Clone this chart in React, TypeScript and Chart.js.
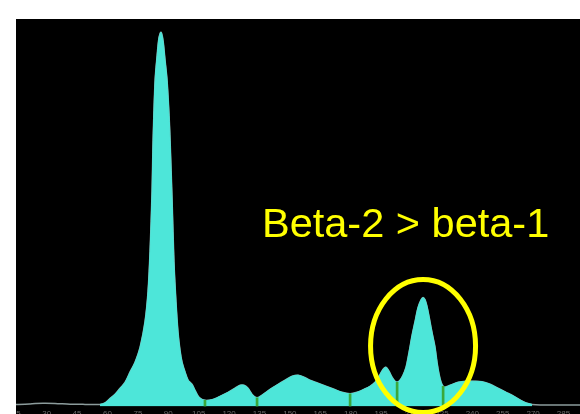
import React, { useEffect, useRef } from "react";
import { Chart, registerables } from "chart.js";

Chart.register(...registerables);

// Densitometer scan: mobility (x) and relative absorbance (% of full scale)
const mobility = [
  5, 14.9, 21.8, 28.2, 34.1, 41.5, 48.9, 56.3, 58.8, 61.3, 63.7, 66.2, 68.7, 71.1,
  73.6, 76.1, 78.5, 80.0, 81.0, 82.0, 82.5, 83.5, 84.5, 85.4, 86.4, 87.4, 88.4,
  89.4, 90.4, 90.9, 91.9, 92.8, 93.8, 94.8, 95.8, 96.8, 98.3, 99.8, 101.7, 103.2,
  105.2, 108.1, 112.1, 115.5, 119.5, 122.9, 125.4, 127.4, 129.4, 131.3, 133.8,
  136.8, 140.2, 144.2, 147.6, 151.1, 154.0, 157.0, 159.9, 163.9, 167.8, 171.8,
  175.7, 179.7, 183.1, 186.6, 189.5, 192.0, 194.0, 196.0, 197.4, 198.9, 200.4,
  201.9, 202.9, 204.3, 205.8, 207.3, 208.8, 210.3, 211.7, 213.2, 214.7, 215.7,
  216.7, 217.7, 218.7, 219.6, 220.6, 221.6, 222.6, 223.6, 224.6, 225.6, 226.5,
  229.0, 233.0, 236.9, 240.9, 244.8, 248.8, 252.7, 256.7, 260.6, 263.5, 266.5,
  269.5, 273.4, 283.3, 293.1, 303,
];

const density = [
  0.52, 0.52, 0.65, 0.83, 0.78, 0.57, 0.52, 0.52, 0.91, 2.08, 3.12, 4.68, 6.23, 8.83,
  11.4, 15.3, 21.8, 29.6, 40.0, 55.6, 68.6, 84.2, 90.6, 95.1, 96.6, 94.5, 89.4,
  84.2, 75.1, 68.6, 53.0, 37.4, 27.0, 19.2, 14.5, 11.4, 8.83, 6.75, 5.71, 4.16,
  2.34, 1.56, 1.82, 2.6, 3.64, 4.68, 5.45, 5.45, 4.68, 3.12, 2.21,
  3.12, 4.42, 5.71, 6.75, 7.79, 8.05, 7.53, 6.75, 5.97, 5.19, 4.42,
  3.64, 3.25, 3.64, 4.42, 5.19, 6.23, 7.79, 9.61, 10.1, 9.09, 7.53,
  6.49, 6.23, 6.75, 8.05, 10.1, 14.0, 18.4, 21.8, 25.5, 27.5, 28.1,
  27.5, 25.7, 23.1, 20.5, 17.9, 15.3, 11.4, 8.31, 6.23, 5.19, 4.94,
  5.45, 6.23, 6.49, 6.49, 6.36, 5.71, 4.68, 3.64, 2.6, 1.69, 0.91,
  0.52, 0.39, 0.39, 0.39, 0.39,
];

// Integrated region and fraction boundaries
const fractionStart = 56.3;
const fractionEnd = 269.5;
const dividerPositions = [108.1, 133.8, 179.7, 202.9, 225.6];
const betaTwoPeak = 215.7;

const tickValues = [15, 30, 45, 60, 75, 90, 105, 120, 135, 150, 165, 180, 195, 210, 225, 240, 255, 270, 285];

const annotationText = "Beta-2 > beta-1";

const tracePoints = mobility.map((x, i) => ({ x, y: density[i] }));
const fillPoints = tracePoints.filter((p) => p.x >= fractionStart && p.x <= fractionEnd);
const dividerPoints = dividerPositions.map((x) => ({ x, y: density[mobility.indexOf(x)] }));

const calloutPlugin = {
  id: "callout",
  afterDraw(chart: any) {
    const { ctx, chartArea, scales } = chart;
    ctx.save();
    // label
    ctx.fillStyle = "#ffff00";
    ctx.font = '41.5px "Liberation Sans", Arial, sans-serif';
    ctx.textAlign = "left";
    ctx.textBaseline = "alphabetic";
    ctx.fillText(annotationText, chartArea.left + 266, chartArea.top + 218);
    // ring around the beta-2 band
    const cx = scales.x.getPixelForValue(betaTwoPeak);
    const cy = scales.y.getPixelForValue(15.6);
    ctx.strokeStyle = "#ffff00";
    ctx.lineWidth = 5;
    ctx.beginPath();
    ctx.ellipse(cx, cy, 52.5, 66.5, 0, 0, Math.PI * 2);
    ctx.stroke();
    ctx.restore();
  },
};

export default function App() {
  const canvasRef = useRef<HTMLCanvasElement | null>(null);

  useEffect(() => {
    if (!canvasRef.current) return;
    const chart = new Chart(canvasRef.current, {
      type: "line",
      data: {
        datasets: [
          {
            type: "bar",
            data: dividerPoints,
            backgroundColor: "#3aa83a",
            borderWidth: 0,
            barThickness: 2,
          } as any,
          {
            data: fillPoints,
            borderColor: "#4de6d9",
            borderWidth: 1,
            backgroundColor: "#4de6d9",
            fill: "origin",
            pointRadius: 0,
            tension: 0.3,
          },
          {
            data: tracePoints,
            borderColor: "#8c9c9c",
            borderWidth: 1.5,
            fill: false,
            pointRadius: 0,
            tension: 0.3,
          },
        ],
      },
      options: {
        animation: false,
        responsive: true,
        maintainAspectRatio: false,
        layout: { padding: 0 },
        plugins: {
          legend: { display: false },
          tooltip: { enabled: false },
        },
        scales: {
          x: {
            type: "linear",
            min: 5,
            max: 303,
            offset: false,
            grid: { display: false, drawTicks: false },
            border: { display: false },
            afterBuildTicks: (axis: any) => {
              axis.ticks = tickValues.map((value) => ({ value }));
            },
            ticks: {
              color: "#6b6b6b",
              padding: 3,
              maxRotation: 0,
              autoSkip: false,
              font: { size: 8, family: '"Liberation Sans", Arial, sans-serif' },
            },
          },
          y: {
            display: false,
            min: 0,
            max: 100,
          },
        },
      },
      plugins: [calloutPlugin],
    });
    return () => chart.destroy();
  }, []);

  return (
    <div
      style={{
        position: "fixed",
        left: 16,
        top: 19,
        width: 564,
        height: 395,
        overflow: "hidden",
        background: "#000",
      }}
    >
      <div style={{ position: "absolute", left: -20, top: 0, width: 604, height: 403 }}>
        <canvas ref={canvasRef} />
      </div>
    </div>
  );
}
